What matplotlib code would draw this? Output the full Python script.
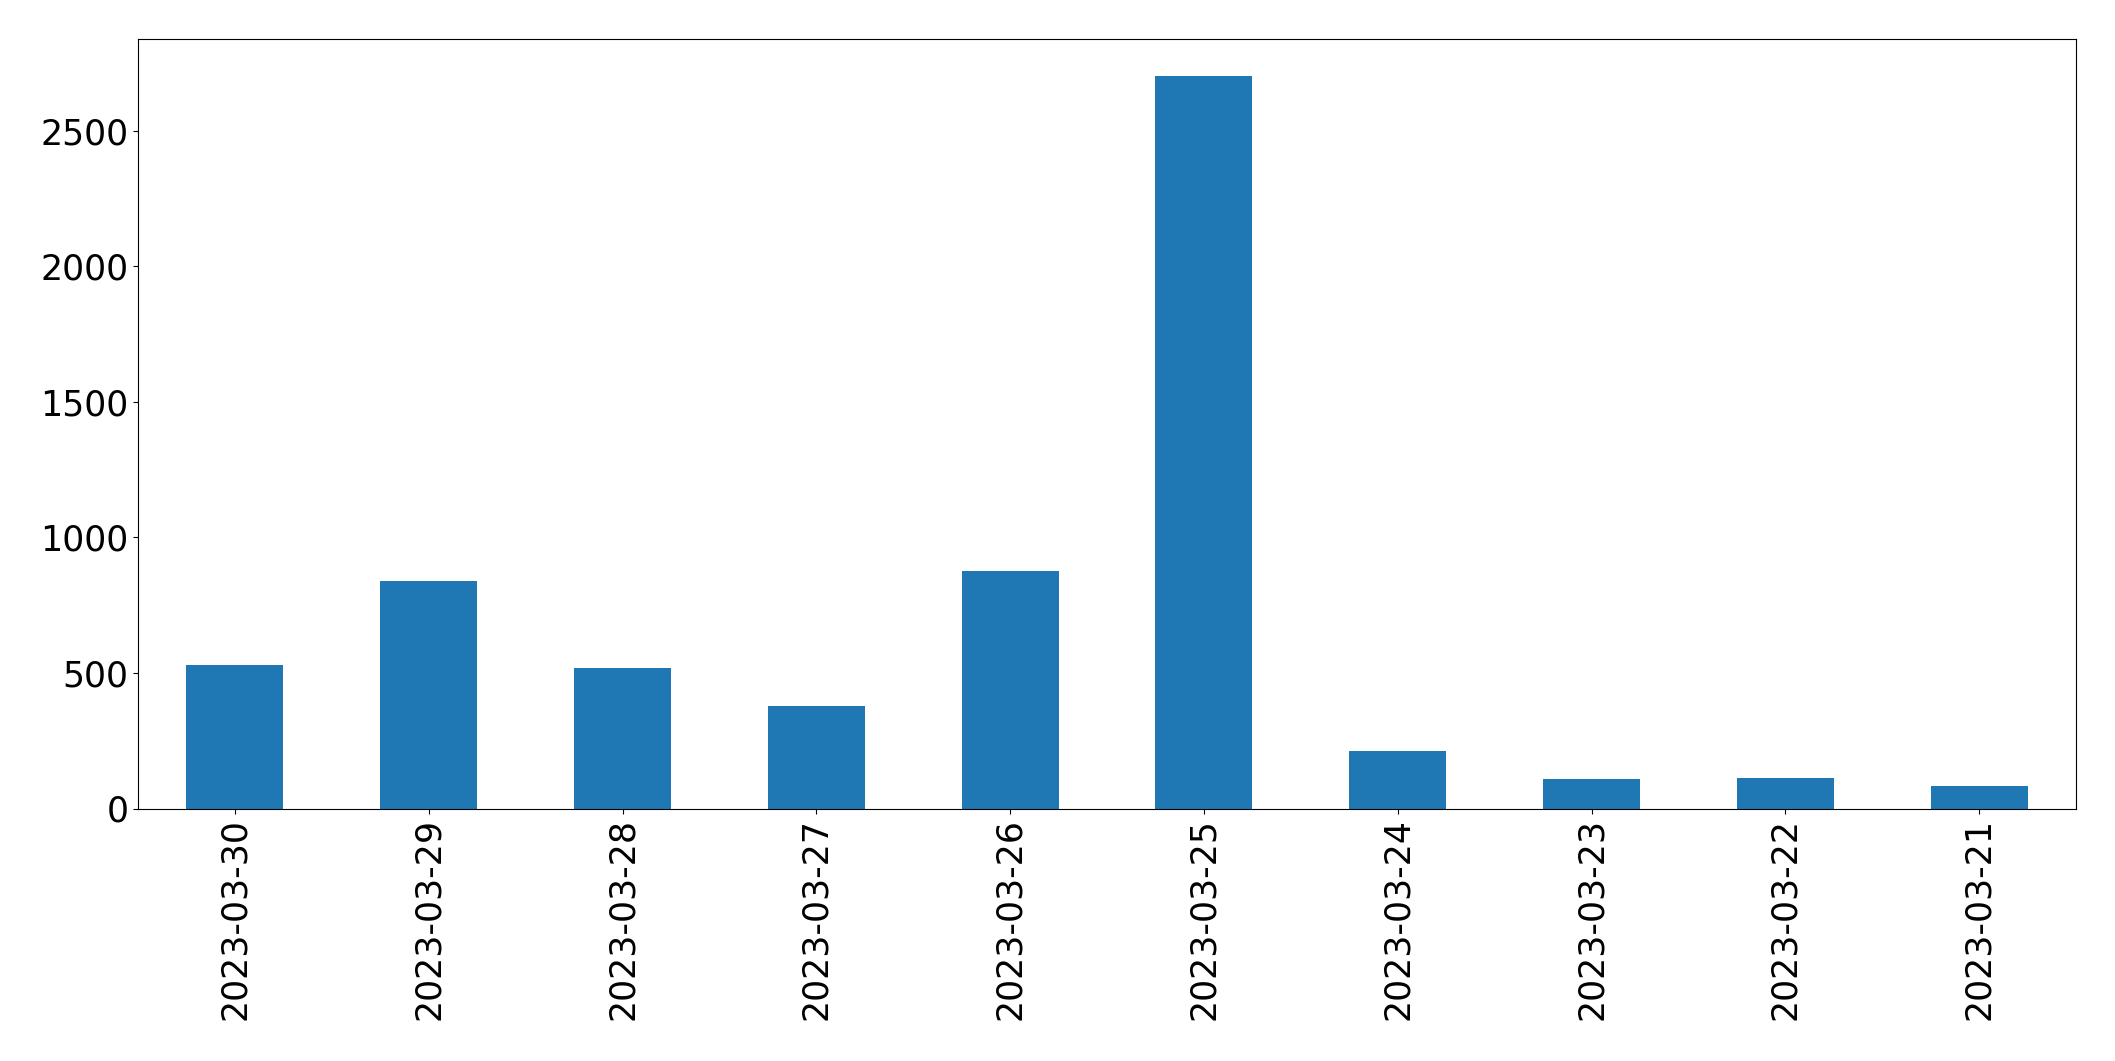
import matplotlib
matplotlib.use("Agg")
import matplotlib.pyplot as plt
import numpy as np

dates = ["2023-03-30", "2023-03-29", "2023-03-28", "2023-03-27", "2023-03-26",
         "2023-03-25", "2023-03-24", "2023-03-23", "2023-03-22", "2023-03-21"]
counts = [528, 838, 519, 378, 876, 2703, 212, 109, 113, 83]

W, H = 2115, 1061
fig = plt.figure(figsize=(W / 100, H / 100), dpi=100)
ax = fig.add_axes([138 / W, 1 - 808.5 / H, (2076 - 138) / W, (808.5 - 39) / H])
x = np.arange(len(dates))
ax.bar(x, counts, width=0.5, color="#1f77b4")
ax.set_xlim(-0.5, len(dates) - 0.5)
ax.set_ylim(0, max(counts) * 1.05)
ax.set_xticks(x)
ax.set_xticklabels(dates, rotation=90)
ax.tick_params(labelsize=25)
fig.savefig("out.png", dpi=100)
